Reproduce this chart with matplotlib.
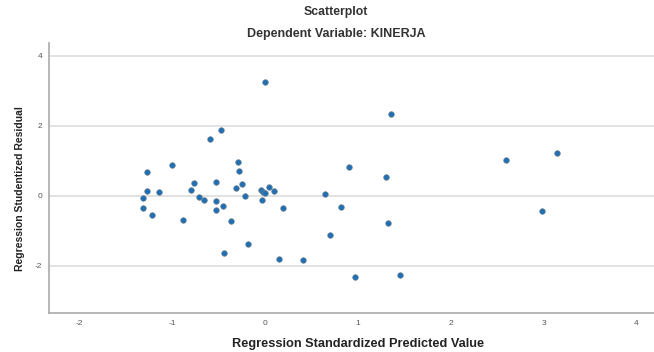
import matplotlib
matplotlib.use("Agg")
import matplotlib.pyplot as plt

plt.rcParams['font.family'] = ['Liberation Sans', 'DejaVu Sans']

predicted = [-0.006, 1.356, -0.472, -0.591, -1.279, -1.003, -0.295, -0.282,
             -1.279, -1.147, -1.316, -1.316, -1.215, -0.891, -0.762, -0.798,
             -0.708, -0.658, -0.530, -0.526, -0.526, -0.451, -0.370, -0.319,
             -0.248, -0.214, -0.448, -0.183, 0.148, -0.046, -0.019, -0.003,
             -0.036, 0.042, 0.096, 0.196, 0.405, 0.644, 0.905, 0.813,
             0.693, 1.297, 1.321, 0.971, 1.458, 2.600, 3.144, 2.982]
residual = [3.24, 2.32, 1.86, 1.61, 0.67, 0.87, 0.96, 0.69,
            0.13, 0.11, -0.07, -0.34, -0.56, -0.69, 0.35, 0.16,
            -0.03, -0.12, 0.40, -0.15, -0.42, -0.29, -0.73, 0.21,
            0.33, -0.01, -1.63, -1.39, -1.82, 0.15, 0.10, 0.07,
            -0.12, 0.26, 0.13, -0.34, -1.84, 0.04, 0.81, -0.33,
            -1.12, 0.52, -0.79, -2.31, -2.28, 1.01, 1.23, -0.44]

x_ticks = [-2, -1, 0, 1, 2, 3, 4]
y_ticks = [-2, 0, 2, 4]

fig = plt.figure(figsize=(6.54, 3.52), dpi=100)
ax = fig.add_axes([0.0749, 0.111, 0.9251, 0.767])

ax.scatter(predicted, residual, s=16, color='#1f6fb4', edgecolors='#6a7f90',
           linewidths=0.5, zorder=3)

ax.set_xlim(-2.33, 4.19)
ax.set_ylim(-3.35, 4.36)
ax.set_xticks(x_ticks)
ax.set_yticks(y_ticks)
ax.set_xticklabels([str(v) for v in x_ticks])
ax.set_yticklabels([str(v) for v in y_ticks])
ax.tick_params(length=0, labelsize=6, colors='#555555')
ax.tick_params(axis='x', pad=5)
ax.tick_params(axis='y', pad=5)
ax.yaxis.grid(True, color='#dddddd', linewidth=1.2)
ax.set_axisbelow(True)

for s in ['top', 'right']:
    ax.spines[s].set_visible(False)
for s in ['left', 'bottom']:
    ax.spines[s].set_color('#aaaaaa')
    ax.spines[s].set_linewidth(1.2)

fig.text(336 / 654, 1 - 12 / 352, 'Scatterplot', ha='center', va='center',
         fontsize=8.8, fontweight='bold', color='#333333')
fig.text(336 / 654, 1 - 34 / 352, 'Dependent Variable: KINERJA', ha='center',
         va='center', fontsize=9, fontweight='bold', color='#333333')
fig.text(358 / 654, 1 - 344 / 352, 'Regression Standardized Predicted Value',
         ha='center', va='center', fontsize=9.2, fontweight='bold',
         color='#222222')
fig.text(20 / 654, 1 - 189 / 352, 'Regression Studentized Residual',
         ha='center', va='center', rotation=90, fontsize=7.5,
         fontweight='bold', color='#222222')

fig.savefig('out.png', dpi=100)
